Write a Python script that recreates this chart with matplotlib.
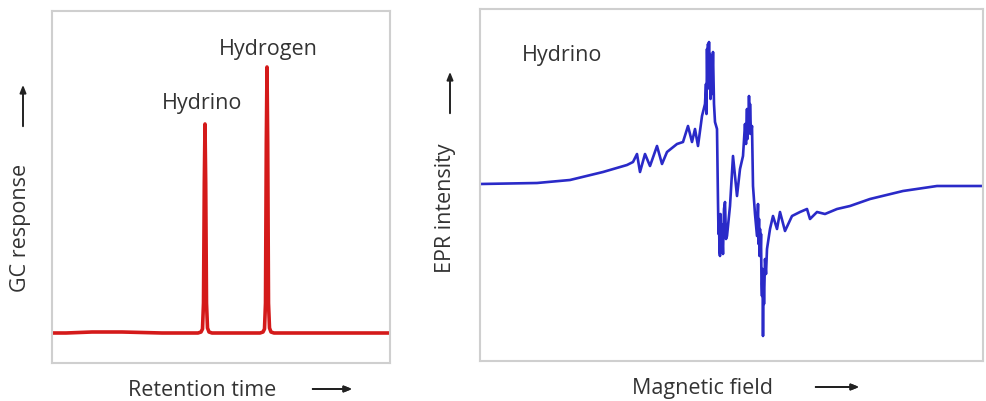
import numpy as np
import matplotlib
matplotlib.use("Agg")
import matplotlib.pyplot as plt

plt.rcParams['font.family'] = ['Open Sans', 'DejaVu Sans']

# GC trace (retention time, response) in arbitrary units
gc_time = [0, 14, 40, 70, 110, 146, 149, 150.5, 151.5, 152.3, 153, 153.7, 154.5, 155.5, 157, 160,
           208, 211, 212.5, 213.5, 214.3, 215, 215.7, 216.5, 217.5, 219, 222, 280, 338]
gc_resp = [0, 0, 1, 1, 0, 0, 1, 4, 30, 150, 209, 150, 30, 5, 1, 0,
           0, 1, 4, 30, 190, 266, 190, 30, 5, 1, 0, 0, 0]

# EPR trace (magnetic field, intensity) in arbitrary units
epr_field = [0, 57, 90, 123, 147, 153, 157, 160, 165, 170, 177, 182, 187, 197, 203, 208, 212, 215,
             218, 222, 225, 226, 226.5, 227, 227.5, 228, 228.5, 229, 229.5, 230, 230.5, 231, 232,
             233, 234, 235, 237,
             238, 238.5, 239, 239.5, 240, 240.5, 241, 241.5, 242, 243, 244, 245, 246, 247, 250,
             253, 257, 260, 263,
             265, 266, 267, 267.5, 268, 268.5, 269, 269.5, 270, 271, 272, 273, 275, 277, 278,
             278.5, 279, 279.5, 280, 280.5, 281, 281.5, 282, 282.5, 283, 283.5, 284, 285, 286, 287,
             290, 293, 297, 300, 305, 312, 320, 327, 330, 337, 345,
             357, 370, 390, 423, 457, 503]
epr_int = [0, 1, 4, 12, 19, 22, 30, 12, 30, 18, 38, 20, 32, 40, 42, 58, 42, 55,
           38, 68, 80, 100, 70, 135, 95, 140, 105, 142, 100, 130, 85, 118, 90,
           132, 80, 62, 55,
           -18, -50, -35, -68, -72, -30, -65, -40, -45, -70, -25, -18, -55, -52, -22,
           28, -12, 15, 28,
           60, 40, 75, 45, 70, 50, 88, 55, 80, 50, 58, -2, -30, -52, -20,
           -60, -35, -72, -45, -70, -50, -100, -112, -85, -152, -95, -120, -75, -90, -65,
           -45, -32, -45, -28, -47, -32, -28, -25, -35, -28, -30,
           -25, -22, -15, -7, -2, -2]

red = '#d41a1a'
blue = '#2a2ac8'
txt = '#333333'
spine = '#cfcfcf'
fs = 15.5

fig = plt.figure(figsize=(9.87, 4.02), dpi=100)

ax1 = fig.add_axes([52 / 987, (402 - 364) / 402, 338 / 987, 352 / 402])
ax1.plot(gc_time, gc_resp, color=red, lw=2.6, solid_joinstyle='round')
ax1.set_xlim(0, 338)
ax1.set_ylim(-30, 322)
ax1.text(216, 284, 'Hydrogen', ha='center', va='center', fontsize=fs, color=txt)
ax1.text(150, 231, 'Hydrino', ha='center', va='center', fontsize=fs, color=txt)

ax2 = fig.add_axes([480 / 987, (402 - 362) / 402, 503 / 987, 352 / 402])
ax2.plot(epr_field, epr_int, color=blue, lw=1.9, solid_joinstyle='round')
ax2.set_xlim(0, 503)
ax2.set_ylim(-177, 175)
ax2.text(82, 130, 'Hydrino', ha='center', va='center', fontsize=fs, color=txt)

for ax in (ax1, ax2):
    ax.set_xticks([])
    ax.set_yticks([])
    for s in ax.spines.values():
        s.set_color(spine)
        s.set_linewidth(1.5)

def fx(px):
    return px / 987

def fy(py):
    return 1 - py / 402

fig.text(fx(202), fy(391), 'Retention time', ha='center', va='center', fontsize=fs, color=txt)
fig.text(fx(703), fy(389), 'Magnetic field', ha='center', va='center', fontsize=fs, color=txt)
fig.text(fx(21), fy(228), 'GC response', ha='center', va='center', rotation=90, fontsize=fs, color=txt)
fig.text(fx(446), fy(208), 'EPR intensity', ha='center', va='center', rotation=90, fontsize=fs, color=txt)

arrow = dict(arrowstyle='-|>,head_length=0.45,head_width=0.18', color='#222222', lw=1.4)
fig.add_artist(plt.annotate('', xy=(fx(355), fy(390)), xytext=(fx(310), fy(390)),
                            xycoords='figure fraction', arrowprops=arrow))
fig.add_artist(plt.annotate('', xy=(fx(862), fy(388)), xytext=(fx(813), fy(388)),
                            xycoords='figure fraction', arrowprops=arrow))
ax1.annotate('', xy=(fx(23), fy(83)), xytext=(fx(23), fy(130)),
             xycoords='figure fraction', arrowprops=arrow, annotation_clip=False)
ax2.annotate('', xy=(fx(450), fy(70)), xytext=(fx(450), fy(117)),
             xycoords='figure fraction', arrowprops=arrow, annotation_clip=False)

fig.savefig('out.png', dpi=100)
